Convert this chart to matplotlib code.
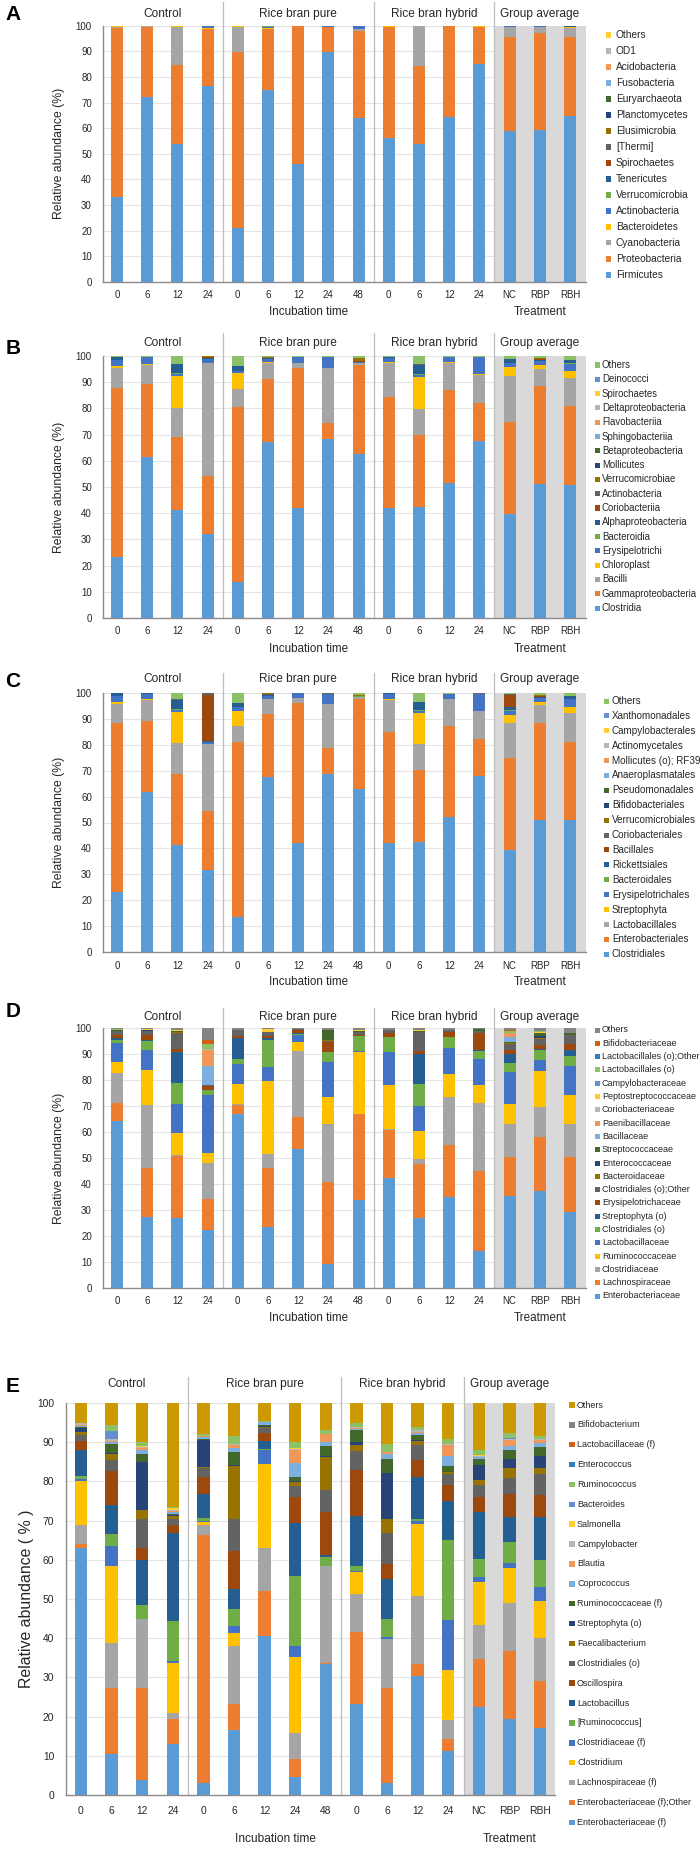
import matplotlib
matplotlib.use('Agg')
import matplotlib.pyplot as plt
from matplotlib import font_manager
from matplotlib.patches import Rectangle
import numpy as np

# ---------------- data ----------------
bar_labels = ['0', '6', '12', '24', '0', '6', '12', '24', '48', '0', '6', '12', '24', 'NC', 'RBP', 'RBH']
group_names = ['Control', 'Rice bran pure', 'Rice bran hybrid', 'Group average']
group_centers = [1.5, 6.0, 10.5, 14.0]

# Panel A: phylum (bottom -> top)
A_taxa = ['Firmicutes', 'Proteobacteria', 'Cyanobacteria', 'Bacteroidetes', 'Actinobacteria',
          'Verrucomicrobia', 'Tenericutes', 'Spirochaetes', '[Thermi]', 'Elusimicrobia',
          'Planctomycetes', 'Euryarchaeota', 'Fusobacteria', 'Acidobacteria', 'OD1', 'Others']
A_values = [
    [33.0, 72.0, 54.0, 76.3, 21.0, 75.0, 46.0, 89.6, 64.0, 56.3, 53.7, 64.5, 85.0, 58.8, 59.3, 64.8],
    [66.0, 27.5, 30.7, 22.4, 68.6, 23.7, 53.7, 9.7, 34.0, 43.0, 30.7, 35.2, 14.3, 36.6, 38.0, 30.9],
    [0.5, 0.2, 14.8, 0.2, 9.9, 0.2, 0.1, 0.2, 0.7, 0.3, 15.3, 0.1, 0.3, 3.9, 2.1, 3.5],
    [0.3, 0.1, 0.3, 0.1, 0.3, 0.1, 0.1, 0.1, 0.1, 0.2, 0.1, 0.1, 0.1, 0.2, 0.1, 0.1],
    [0.1, 0.1, 0.0, 0.9, 0.1, 0.3, 0.0, 0.3, 1.1, 0.1, 0.1, 0.0, 0.2, 0.3, 0.3, 0.3],
    [0, 0, 0, 0, 0, 0.6, 0, 0, 0, 0, 0, 0, 0, 0, 0.1, 0],
    [0, 0, 0, 0.1, 0, 0, 0, 0.1, 0.1, 0, 0, 0, 0.1, 0.1, 0.1, 0.1],
    [0] * 16, [0] * 16, [0] * 16, [0] * 16, [0] * 16, [0] * 16, [0] * 16, [0] * 16,
    [0.1, 0.1, 0.2, 0, 0.1, 0.1, 0.1, 0, 0, 0.1, 0.1, 0.1, 0, 0.1, 0, 0.3],
]

# Panel B: class
B_taxa = ['Clostridia', 'Gammaproteobacteria', 'Bacilli', 'Chloroplast', 'Erysipelotrichi',
          'Bacteroidia', 'Alphaproteobacteria', 'Coriobacteriia', 'Actinobacteria',
          'Verrucomicrobiae', 'Mollicutes', 'Betaproteobacteria', 'Sphingobacteriia',
          'Flavobacteriia', 'Deltaproteobacteria', 'Spirochaetes', 'Deinococci', 'Others']
B_values = [
    [23.4, 61.5, 41.3, 32.0, 13.7, 67.3, 41.9, 68.4, 62.5, 41.9, 42.2, 51.7, 67.5, 39.6, 51.0, 50.8],
    [64.5, 27.7, 27.6, 22.3, 67.0, 23.9, 53.7, 6.2, 34.1, 42.5, 27.6, 35.3, 14.5, 35.4, 37.4, 30.2],
    [7.4, 7.4, 11.4, 42.9, 6.6, 6.3, 1.9, 20.8, 0.9, 12.8, 10.1, 10.5, 10.8, 17.4, 6.6, 10.6],
    [1.0, 0.2, 12.1, 0.1, 6.1, 0.1, 0.0, 0.1, 0.0, 0.6, 12.0, 0.1, 0.2, 3.5, 1.4, 2.8],
    [2.2, 2.8, 0.8, 1.5, 1.0, 1.1, 2.0, 4.0, 0.3, 1.5, 0.8, 2.0, 6.5, 1.4, 1.7, 2.7],
    [0.1, 0, 0.3, 0, 0, 0, 0, 0, 0, 0, 0.3, 0, 0, 0.1, 0, 0.1],
    [1.2, 0.2, 3.5, 0.3, 1.6, 0.4, 0.2, 0, 0, 0.4, 3.6, 0, 0, 1.3, 0.4, 1.1],
    [0, 0, 0, 0.5, 0, 0.2, 0, 0.3, 0.2, 0, 0, 0, 0.3, 0.3, 0.2, 0.2],
    [0, 0, 0, 0, 0, 0, 0, 0, 0, 0, 0.2, 0, 0, 0, 0, 0.1],
    [0, 0, 0, 0.4, 0, 0.4, 0, 0, 1.2, 0, 0, 0, 0, 0, 0.4, 0],
    [0] * 16, [0] * 16, [0] * 16, [0] * 16, [0] * 16, [0] * 16, [0] * 16,
    [0.2, 0.2, 3.0, 0, 4.0, 0.3, 0.3, 0.2, 0.8, 0.3, 3.2, 0.4, 0.2, 1.0, 0.9, 1.4],
]

# Panel C: order
C_taxa = ['Clostridiales', 'Enterobacteriales', 'Lactobacillales', 'Streptophyta',
          'Erysipelotrichales', 'Bacteroidales', 'Rickettsiales', 'Bacillales',
          'Coriobacteriales', 'Verrucomicrobiales', 'Bifidobacteriales', 'Pseudomonadales',
          'Anaeroplasmatales', 'Mollicutes (o); RF39', 'Actinomycetales', 'Campylobacterales',
          'Xanthomonadales', 'Others']
C_values = [
    [23.2, 61.7, 41.3, 31.8, 13.7, 67.6, 42.2, 68.5, 62.9, 42.0, 42.4, 52.0, 67.9, 39.5, 51.0, 51.0],
    [65.0, 27.5, 27.4, 22.5, 67.2, 24.1, 53.7, 10.1, 34.5, 43.0, 27.7, 35.3, 14.4, 35.5, 37.4, 30.1],
    [7.4, 8.0, 11.8, 25.8, 6.1, 5.9, 1.9, 16.9, 0.8, 12.2, 10.0, 10.1, 10.7, 13.2, 6.7, 10.9],
    [0.9, 0.2, 11.9, 0.1, 6.0, 0.1, 0, 0.1, 0, 0.5, 12.2, 0.1, 0.1, 3.3, 1.2, 2.5],
    [2.2, 2.2, 1.0, 1.0, 1.5, 1.1, 2.0, 4.0, 0.3, 1.8, 0.7, 2.1, 6.4, 1.6, 1.5, 3.0],
    [0.1, 0, 0.2, 0, 0.1, 0.1, 0, 0, 0.1, 0, 0.3, 0, 0, 0.2, 0.1, 0.1],
    [1.0, 0.2, 3.6, 0.1, 1.4, 0.3, 0, 0, 0, 0.2, 3.0, 0, 0, 1.3, 0.6, 1.0],
    [0, 0, 0, 18.0, 0, 0, 0, 0, 0, 0, 0, 0, 0, 4.6, 0.1, 0],
    [0, 0, 0.2, 0.7, 0, 0.2, 0, 0.2, 0.2, 0, 0.3, 0, 0.3, 0.3, 0.2, 0.2],
    [0, 0, 0, 0, 0, 0.4, 0, 0, 0.5, 0, 0, 0, 0, 0, 0.3, 0],
    [0] * 16, [0] * 16, [0] * 16, [0] * 16, [0] * 16, [0] * 16, [0] * 16,
    [0.2, 0.2, 2.6, 0, 4.0, 0.2, 0.2, 0.2, 0.7, 0.3, 3.4, 0.4, 0.2, 0.5, 0.9, 1.2],
]

# Panel D: family
D_taxa = ['Enterobacteriaceae', 'Lachnospiraceae', 'Clostridiaceae', 'Ruminococcaceae',
          'Lactobacillaceae', 'Clostridiales (o)', 'Streptophyta (o)', 'Erysipelotrichaceae',
          'Clostridiales (o);Other', 'Bacteroidaceae', 'Enterococcaceae', 'Streptococcaceae',
          'Bacillaceae', 'Paenibacillaceae', 'Coriobacteriaceae', 'Peptostreptococcaceae',
          'Campylobacteraceae', 'Lactobacillales (o)', 'Lactobacillales (o);Other',
          'Bifidobacteriaceae', 'Others']
D_values = [
    [64.4, 27.4, 27.1, 22.2, 67.0, 23.5, 53.3, 9.4, 33.8, 42.4, 27.1, 35.1, 14.3, 35.5, 37.3, 29.3],
    [6.7, 18.6, 23.7, 12.2, 3.4, 22.8, 12.4, 31.5, 33.2, 18.4, 20.5, 19.9, 30.7, 14.9, 20.9, 21.2],
    [11.5, 24.4, 0.3, 13.5, 0.4, 5.1, 25.3, 22.2, 0.1, 0.3, 2.0, 18.6, 26.3, 12.6, 11.3, 12.6],
    [4.3, 13.5, 8.7, 4.1, 7.7, 28.3, 3.5, 10.3, 23.5, 16.8, 10.8, 8.7, 6.8, 7.7, 13.8, 11.2],
    [7.3, 7.5, 11.1, 22.3, 7.7, 5.3, 2.9, 13.7, 0.4, 12.7, 9.6, 10.0, 9.9, 12.2, 4.5, 10.9],
    [1.0, 3.6, 8.0, 1.9, 1.8, 10.5, 0.3, 3.5, 5.8, 5.8, 8.4, 4.2, 3.3, 3.6, 3.8, 3.9],
    [0.8, 0.3, 11.9, 0.1, 8.0, 0.8, 0.2, 0.3, 0.2, 0.3, 11.7, 0.2, 0.2, 3.4, 0.3, 2.5],
    [1.5, 2.2, 1.3, 1.5, 0.9, 0.7, 1.2, 3.6, 0.5, 1.4, 0.9, 1.8, 6.6, 1.7, 1.5, 2.4],
    [1.2, 1.3, 6.0, 0.2, 2.5, 1.5, 0.5, 0.6, 1.0, 1.2, 7.5, 0.9, 0.6, 2.3, 2.3, 3.5],
    [0, 0.1, 0.2, 0, 0, 0, 0, 0.2, 0, 0, 0, 0, 0, 0.2, 0.6, 0],
    [0.2, 0.2, 0.3, 0, 0, 0, 0, 0.2, 0, 0, 0, 0, 0, 0.2, 0.6, 0],
    [0.2, 0.2, 0.3, 0, 0, 0, 0, 3.9, 0.5, 0, 0.3, 0, 0.8, 0.3, 1.0, 0.4],
    [0.1, 0.1, 0, 7.5, 0, 0, 0, 0, 0, 0, 0, 0, 0, 1.9, 0, 0],
    [0.1, 0, 0, 6.1, 0, 0, 0, 0, 0, 0, 0, 0, 0, 1.5, 0, 0],
    [0, 0, 0, 0.2, 0, 0, 0, 0, 0, 0, 0, 0, 0, 0.1, 0, 0],
    [0.1, 0.2, 0.2, 0.1, 0, 1.0, 0, 0, 0.4, 0, 0.3, 0, 0, 0.1, 0.5, 0],
    [0] * 16,
    [0.2, 0.1, 0.2, 1.8, 0, 0, 0, 0, 0, 0, 0, 0, 0, 0.5, 0.3, 0],
    [0, 0, 0, 0.2, 0, 0, 0, 0, 0, 0, 0, 0, 0, 0, 0, 0],
    [0.1, 0, 0, 1.6, 0, 0, 0, 0, 0, 0, 0, 0, 0, 0.4, 0, 0],
    [0.3, 0.3, 0.7, 4.5, 0.6, 0.5, 0.4, 0.6, 0.6, 0.7, 0.9, 0.6, 0.5, 0.9, 1.3, 2.1],
]

# Panel E: genus
E_taxa = ['Enterobacteriaceae (f)', 'Enterobacteriaceae (f);Other', 'Lachnospiraceae (f)',
          'Clostridium', 'Clostridiaceae (f)', '[Ruminococcus]', 'Lactobacillus', 'Oscillospira',
          'Clostridiales (o)', 'Faecalibacterium', 'Streptophyta (o)', 'Ruminococcaceae (f)',
          'Coprococcus', 'Blautia', 'Campylobacter', 'Salmonella', 'Bacteroides', 'Ruminococcus',
          'Enterococcus', 'Lactobacillaceae (f)', 'Bifidobacterium', 'Others']
E_values = [
    [63.1, 10.5, 3.7, 13.0, 3.0, 16.7, 40.5, 4.7, 33.3, 23.2, 3.0, 30.3, 11.2, 22.5, 19.3, 17.0],
    [0.9, 16.9, 23.5, 6.3, 63.4, 6.5, 11.6, 4.6, 0.4, 18.4, 24.4, 3.1, 3.0, 12.1, 17.5, 12.1],
    [4.8, 11.5, 17.6, 1.7, 2.4, 14.8, 10.8, 6.6, 24.7, 9.6, 12.5, 17.4, 4.9, 8.7, 12.1, 11.0],
    [11.3, 19.6, 0, 12.7, 0.9, 3.3, 21.5, 19.4, 0, 5.7, 0, 18.4, 12.8, 11.1, 9.0, 9.4],
    [0.4, 5.1, 0, 0.5, 0.3, 1.7, 3.5, 2.7, 0.1, 0.2, 0.4, 0.7, 12.7, 1.2, 1.3, 3.6],
    [0.8, 2.9, 3.6, 10.2, 0.6, 4.5, 0.3, 17.8, 2.2, 1.4, 4.5, 0.6, 20.4, 4.5, 5.4, 6.8],
    [6.8, 7.4, 11.5, 22.5, 6.2, 5.0, 2.1, 13.6, 0.6, 12.7, 10.4, 10.5, 10.0, 12.1, 6.2, 10.9],
    [2.2, 8.7, 3.0, 1.9, 4.2, 9.7, 2.0, 6.5, 10.8, 11.6, 3.8, 4.4, 4.0, 3.8, 5.9, 5.8],
    [1.5, 2.8, 7.4, 1.7, 2.5, 8.2, 1.3, 2.9, 5.7, 4.9, 7.9, 3.8, 3.0, 3.0, 4.2, 5.4],
    [0.8, 1.5, 2.5, 0.6, 0.3, 13.6, 0.3, 1.1, 8.4, 1.5, 3.4, 1.1, 0.5, 1.3, 2.6, 1.3],
    [0.9, 0.3, 12.2, 0.3, 6.7, 0.2, 0.2, 0.2, 0.3, 0.8, 11.9, 0.2, 0, 3.8, 2.1, 3.1],
    [0.3, 2.4, 2.1, 0.4, 0.3, 3.2, 0.3, 0.9, 2.5, 3.0, 3.6, 1.3, 1.5, 1.7, 2.5, 2.4],
    [0.4, 0.4, 0.9, 0.4, 0.5, 1.1, 0.7, 3.7, 1.0, 0.3, 1.3, 0.5, 2.4, 0.3, 0.9, 1.0],
    [0.3, 0.4, 0.4, 0.3, 0.2, 0.7, 0.1, 3.4, 2.0, 0.2, 0.4, 0.3, 2.8, 0.2, 1.5, 0.7],
    [0.3, 0.3, 0.3, 0.3, 0.2, 0.3, 0, 0.2, 0.2, 0.5, 0, 0.4, 0.3, 0.3, 0.2, 0.3],
    [0.1, 0.2, 0.3, 0.3, 0, 0, 0, 0.1, 0, 0, 0, 0, 0, 0.1, 0.2, 0],
    [0, 2.0, 0, 0.2, 0, 0, 0, 0, 0, 0, 0, 0, 0, 0.1, 0.1, 0],
    [0.1, 1.6, 1.0, 0.2, 0.3, 2.0, 0.1, 1.6, 0.8, 1.0, 2.0, 0.8, 1.3, 1.2, 1.3, 0.9],
    [0] * 16, [0] * 16, [0] * 16,
    [5.0, 5.5, 10.0, 26.5, 8.0, 8.5, 4.7, 10.0, 7.0, 5.0, 10.5, 6.2, 9.2, 12.0, 7.7, 8.3],
]

# ---------------- style ----------------
PALETTE = ['#5B9BD5', '#ED7D31', '#A5A5A5', '#FFC000', '#4472C4', '#70AD47', '#255E91',
           '#9E480E', '#636363', '#997300', '#264478', '#43682B', '#7CAFDD', '#F1975A',
           '#B7B7B7', '#FFCD33', '#698ED0', '#8CC168', '#327DC2', '#D26012', '#848484', '#CC9A00']

W, H = 700, 1853
available = {f.name for f in font_manager.fontManager.ttflist}


def pick(names):
    for n in names:
        if n in available:
            return n
    return 'DejaVu Sans'


REG = pick(['Liberation Sans', 'Arial', 'DejaVu Sans'])
NARROW = pick(['Liberation Sans Narrow', 'Arial Narrow', 'DejaVu Sans Condensed'])
if NARROW == 'Liberation Sans Narrow' or NARROW == 'Arial Narrow':
    NF = 1.0
elif NARROW == 'DejaVu Sans Condensed':
    NF = 0.84
else:
    NARROW = REG
    NF = 0.82

TXT = '#262626'
fig = plt.figure(figsize=(W / 100, H / 100), dpi=100)


def draw_panel(letter, taxa, values, geo):
    left, right, top, bottom = geo['box']
    axw, axh = right - left, bottom - top
    ax = fig.add_axes([left / W, 1 - bottom / H, axw / W, axh / H])
    x0, x1 = geo['xlim']
    ax.set_xlim(x0, x1)
    ax.set_ylim(0, 100)
    fam, fs = geo['font'], geo['fs']
    for yv in range(10, 101, 10):
        ax.axhline(yv, color='#E4E4E4', lw=0.8, zorder=0.2)
    ax.axvspan(12.5, x1, color='#D9D9D9', lw=0, zorder=0.5)
    xs = np.arange(len(bar_labels))
    acc = np.zeros(len(bar_labels))
    for name, vals, col in zip(taxa, values, PALETTE):
        v = np.asarray(vals, dtype=float)
        ax.bar(xs, v, 0.4, bottom=acc, color=col, linewidth=0, zorder=2, label=name)
        acc += v
    sep_top = 1 + geo['sep_above'] / axh
    for sx in (3.5, 8.5, 12.5):
        ax.plot([sx, sx], [0, sep_top], transform=ax.get_xaxis_transform(),
                color='#BDBDBD', lw=0.9, clip_on=False, zorder=3)
    for s in ('top', 'right'):
        ax.spines[s].set_visible(False)
    for s in ('left', 'bottom'):
        ax.spines[s].set_color('#8C8C8C')
        ax.spines[s].set_linewidth(1.0)
        ax.spines[s].set_zorder(4)
    ax.set_yticks(range(0, 101, 10))
    ax.set_xticks(xs)
    ax.set_xticklabels(bar_labels)
    ax.tick_params(axis='both', length=0, colors=TXT)
    ax.tick_params(axis='y', pad=geo['ypad'])
    ax.tick_params(axis='x', pad=geo['xpad'])
    for lab in ax.get_xticklabels() + ax.get_yticklabels():
        lab.set_fontfamily(fam)
        lab.set_fontsize(fs['tick'])
    # group titles
    ty = 1 + (top - geo['title_y']) / axh
    for gname, gc in zip(group_names, group_centers):
        ax.text(gc, ty, gname, transform=ax.get_xaxis_transform(), ha='center', va='center',
                fontsize=fs['title'], family=fam, color=TXT)
    ly = -(geo['xlab_y'] - bottom) / axh
    ax.text(geo['inc_x'], ly, 'Incubation time', transform=ax.get_xaxis_transform(),
            ha='center', va='center', fontsize=fs['lab'], family=fam, color=TXT)
    ax.text(14.0, ly, 'Treatment', transform=ax.get_xaxis_transform(),
            ha='center', va='center', fontsize=fs['lab'], family=fam, color=TXT)
    fig.text(geo['ylab_x'] / W, 1 - (top + bottom) / 2 / H, 'Relative abundance (%)'
             if letter != 'E' else 'Relative abundance ( % )',
             rotation=90, ha='center', va='center', fontsize=fs['ylab'], family=fam, color=TXT)
    fig.text(13 / W, 1 - geo['letter_y'] / H, letter, ha='center', va='center',
             fontsize=15, fontweight='bold', family=REG, color='black')
    # legend (reverse order, Others on top)
    mx, tx, y0, dy, sq = geo['legend']
    leg_fs = geo.get('leg_fs', fs['leg'])
    items = list(zip(taxa, PALETTE))[::-1]
    for k, (name, col) in enumerate(items):
        yy = y0 + k * dy
        fig.add_artist(Rectangle(((mx - sq / 2) / W, 1 - (yy + sq / 2) / H), sq / W, sq / H,
                                 transform=fig.transFigure, facecolor=col, edgecolor='none'))
        fig.text(tx / W, 1 - yy / H, name, ha='left', va='center', fontsize=leg_fs,
                 family=fam, color=TXT)
    return ax


fs_reg = {'tick': 7.0, 'title': 8.6, 'lab': 8.4, 'ylab': 8.8, 'leg': 7.3}
fs_nar = {'tick': 9.0 * NF, 'title': 10.4 * NF, 'lab': 10.4 * NF, 'ylab': 14.0 * NF, 'leg': 7.9 * NF}

xl = (-0.464, 15.53)
geos = {
    'A': dict(box=(103, 586, 25.7, 282), xlim=xl, font=REG, fs=fs_reg, sep_above=24, ypad=8, xpad=6,
              title_y=14, xlab_y=312, inc_x=6.35, ylab_x=59, letter_y=15,
              legend=(608, 616, 35, 16.0, 5)),
    'B': dict(box=(103, 586, 356, 618), xlim=xl, font=REG, fs=fs_reg, sep_above=23, ypad=8, xpad=6,
              title_y=343, xlab_y=649, inc_x=6.35, ylab_x=59, letter_y=349,
              legend=(597, 602, 365, 14.3, 5), leg_fs=6.9),
    'C': dict(box=(103, 586, 692.7, 952.3), xlim=xl, font=REG, fs=fs_reg, sep_above=20, ypad=8, xpad=6,
              title_y=679, xlab_y=982, inc_x=6.35, ylab_x=59, letter_y=681,
              legend=(606, 612, 701, 14.9, 5), leg_fs=7.1),
    'D': dict(box=(103, 586, 1028, 1288), xlim=xl, font=REG, fs=fs_reg, sep_above=20, ypad=8, xpad=6,
              title_y=1017, xlab_y=1318, inc_x=6.35, ylab_x=59, letter_y=1011,
              legend=(597, 602, 1030, 13.3, 5), leg_fs=6.5),
    'E': dict(box=(66, 555, 1403, 1795), xlim=(-0.49, 15.49), font=NARROW, fs=fs_nar, sep_above=26,
              ypad=8.5, xpad=8, title_y=1384, xlab_y=1839, inc_x=6.34, ylab_x=27, letter_y=1387,
              legend=(572, 577, 1405, 19.87, 5.5)),
}

draw_panel('A', A_taxa, A_values, geos['A'])
draw_panel('B', B_taxa, B_values, geos['B'])
draw_panel('C', C_taxa, C_values, geos['C'])
draw_panel('D', D_taxa, D_values, geos['D'])
draw_panel('E', E_taxa, E_values, geos['E'])

fig.savefig('out.png', dpi=100, facecolor='white')
